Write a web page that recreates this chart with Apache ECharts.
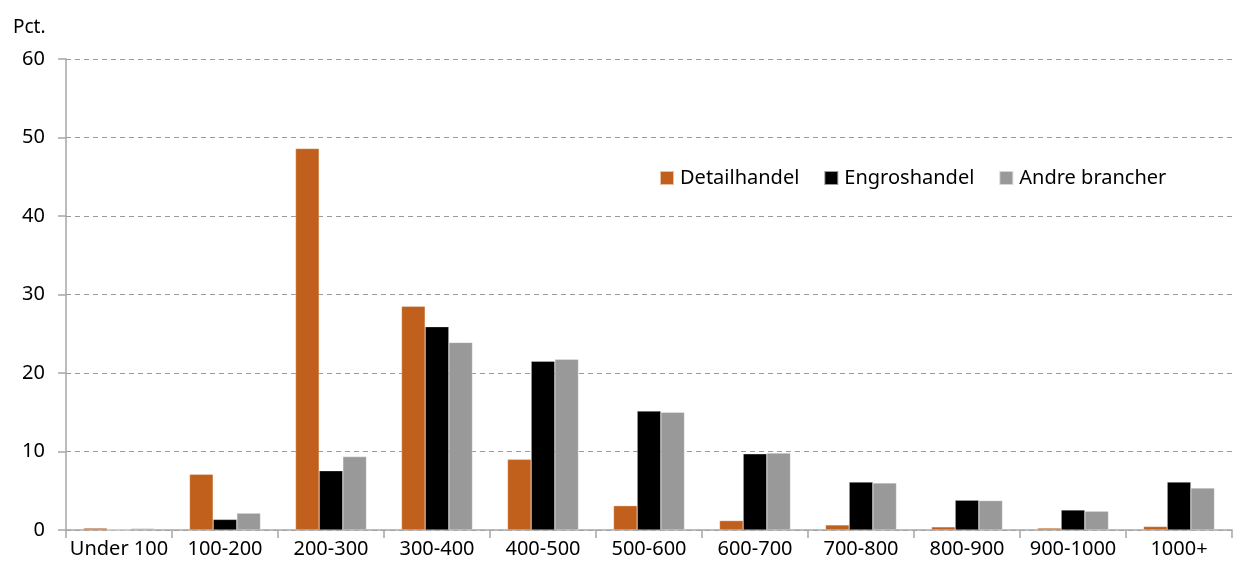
<!DOCTYPE html>
<html>
<head>
<meta charset="utf-8">
<script src="https://cdn.jsdelivr.net/npm/echarts@6/dist/echarts.min.js"></script>
<style>
  html, body { margin: 0; padding: 0; background: #fff; }
  #chart { width: 1233px; height: 572px; }
</style>
</head>
<body>
<div id="chart"></div>
<script>
// data
const categories = ['Under 100', '100-200', '200-300', '300-400', '400-500', '500-600', '600-700', '700-800', '800-900', '900-1000', '1000+']
const detailhandel = [0.25, 7.1, 48.6, 28.5, 9.0, 3.1, 1.2, 0.65, 0.4, 0.25, 0.45]
const engroshandel = [0, 1.35, 7.55, 25.9, 21.5, 15.15, 9.7, 6.1, 3.8, 2.55, 6.1]
const andreBrancher = [0.2, 2.15, 9.35, 23.9, 21.75, 15.0, 9.8, 6.0, 3.75, 2.4, 5.35]
const yTicks = [0, 10, 20, 30, 40, 50, 60]

const font = 'Noto Sans'
const chart = echarts.init(document.getElementById('chart'))

function bar(name, data, color) {
    return {
        name: name,
        type: 'bar',
        data: data,
        barGap: '0%',
        barCategoryGap: '33%',
        itemStyle: { color: color, borderColor: 'rgba(255,255,255,0.6)', borderWidth: 0.5 },
        animation: false
    }
}

let option = {
    animation: false,
    textStyle: { fontFamily: font },
    grid: { left: 66, right: 1, top: 59, bottom: 42, containLabel: false },
    title: {
        text: 'Pct.',
        left: 8,
        top: 13,
        textStyle: { fontFamily: font, fontSize: 19, fontWeight: 'normal', color: '#000' }
    },
    legend: {
        data: ['Detailhandel', 'Engroshandel', 'Andre brancher'],
        left: 654,
        top: 163,
        itemWidth: 14,
        itemHeight: 14,
        itemGap: 24,
        icon: 'rect',
        textStyle: { fontFamily: font, fontSize: 20, color: '#000', padding: [0, 0, 0, 1] }
    },
    xAxis: {
        type: 'category',
        data: categories,
        axisLine: { lineStyle: { color: '#a6a6a6', width: 1.5 } },
        axisTick: { show: true, length: 8, alignWithLabel: false, lineStyle: { color: '#a6a6a6', width: 1.5 } },
        axisLabel: { color: '#000', fontSize: 20, fontFamily: font, margin: 9, interval: 0 }
    },
    yAxis: {
        type: 'value',
        min: yTicks[0],
        max: yTicks[yTicks.length - 1],
        interval: 10,
        axisLine: { show: true, lineStyle: { color: '#a6a6a6', width: 1.5 } },
        axisTick: { show: true, length: 8, lineStyle: { color: '#a6a6a6', width: 1.5 } },
        axisLabel: { color: '#000', fontSize: 20, fontFamily: font, margin: 21 },
        splitLine: { show: true, lineStyle: { color: '#9a9a9a', type: [5, 4], width: 1.2 } }
    },
    series: [
        bar('Detailhandel', detailhandel, '#c0601c'),
        bar('Engroshandel', engroshandel, '#000000'),
        bar('Andre brancher', andreBrancher, '#999999')
    ]
}
chart.setOption(option)
</script>
</body>
</html>
